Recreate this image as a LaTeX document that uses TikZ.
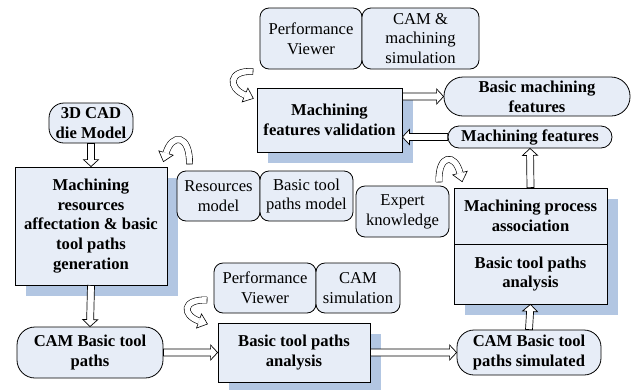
\documentclass[tikz,border=0pt]{standalone}
\usepackage{fontspec}
\setmainfont{Liberation Serif}
\usetikzlibrary{calc,shadows,backgrounds}
\definecolor{boxfill}{RGB}{231,237,247}
\definecolor{shadowc}{RGB}{178,198,226}
\tikzset{
  base/.style={draw=black, line width=0.8pt, fill=boxfill, align=center, inner sep=0pt},
  shadowed/.style={drop shadow={shadow xshift=11pt, shadow yshift=-11pt, fill=shadowc, opacity=1}},
  mainbox/.style={base, shadowed, font=\bfseries},
  toolbox/.style={base, rounded corners=9pt},
  pillbox/.style={base, rounded corners=16pt, font=\bfseries},
  harrowsty/.style={draw=black, line width=0.7pt, fill=white, line join=miter},
  bandsty/.style={draw=black, line width=0.6pt, double=white, double distance=5.6pt},
}
\newcommand\harrow[2]{%
  \path (#1) coordinate (hA) (#2) coordinate (hB);
  \path ($(hB)!7pt!(hA)$) coordinate (hH);
  \filldraw[harrowsty] ($(hA)!3.5pt!90:(hB)$) -- ($(hH)!3.5pt!90:(hB)$) -- ($(hH)!7.5pt!90:(hB)$) -- (hB)
    -- ($(hH)!7.5pt!-90:(hB)$) -- ($(hH)!3.5pt!-90:(hB)$) -- ($(hA)!3.5pt!-90:(hB)$) -- cycle;
}
\newcommand\curvarrow[4]{%
  \path (#1) coordinate (cS) (#2) coordinate (cA) (#3) coordinate (cB) (#4) coordinate (cE);
  \draw[bandsty] (cS) .. controls (cA) and (cB) .. (cE);
  \draw[line width=0.6pt] ($(cS)!3.1pt!90:(cA)$) -- ($(cS)!3.1pt!-90:(cA)$);
  \fill[white] ($(cE)!7.5pt!90:(cB)$) -- ($(cE)!-9pt!(cB)$) -- ($(cE)!7.5pt!-90:(cB)$) -- cycle;
  \draw[line width=0.6pt, line join=miter] ($(cE)!3.1pt!90:(cB)$) -- ($(cE)!7.5pt!90:(cB)$) -- ($(cE)!-9pt!(cB)$)
    -- ($(cE)!7.5pt!-90:(cB)$) -- ($(cE)!3.1pt!-90:(cB)$);
}
\begin{document}
\fontsize{16.6}{19.8}\selectfont
\begin{tikzpicture}[x=1pt, y=-1pt]
\useasboundingbox (0,0) rectangle (634,389);

% top tools
\node[toolbox, minimum width=102pt, minimum height=61pt] (pv1) at (311,38.5) {Performance\\Viewer};
\node[toolbox, minimum width=117pt, minimum height=61pt] (cam1) at (420.5,38.5) {CAM \&\\machining\\simulation};

% validation
\node[mainbox, minimum width=145pt, minimum height=64pt] (mfv) at (329.5,120) {Machining\\features validation};
\node[pillbox, rounded corners=19pt, minimum width=186pt, minimum height=39pt] (bmf) at (537,96.5) {Basic machining\\features};
\node[pillbox, rounded corners=11pt, minimum width=164pt, minimum height=22pt] (mf) at (530,137) {Machining features};

% left column
\node[pillbox, rounded corners=15pt, minimum width=84pt, minimum height=40pt] (cad) at (91,123) {3D CAD\\die Model};
\node[mainbox, minimum width=152pt, minimum height=118pt] (mr) at (91,226) {Machining\\resources\\affectation \& basic\\tool paths\\generation};
\node[pillbox, rounded corners=18pt, minimum width=146pt, minimum height=51pt] (cbtp) at (90,352.5) {CAM Basic tool\\paths};

% middle tools
\node[toolbox, minimum width=83pt, minimum height=50pt] (rm) at (218.5,196) {Resources\\model};
\node[toolbox, minimum width=93pt, minimum height=50pt] (btpm) at (306.5,196) {Basic tool\\paths model};
\node[toolbox, minimum width=93pt, minimum height=51pt] (ek) at (402.5,211.5) {Expert\\knowledge};

% process association (split box)
\node[base, font=\bfseries, minimum width=153pt, minimum height=56pt] (mpa1) at (530.5,216) {Machining process\\association};
\node[base, font=\bfseries, minimum width=153pt, minimum height=60pt] (mpa2) at (530.5,274) {Basic tool paths\\analysis};
\begin{scope}[on background layer]
  \fill[shadowc] ([shift={(11pt,-11pt)}]mpa1.north west) rectangle ([shift={(11pt,-11pt)}]mpa2.south east);
\end{scope}

% bottom row
\node[toolbox, minimum width=102pt, minimum height=50pt] (pv2) at (265,288) {Performance\\Viewer};
\node[toolbox, minimum width=84pt, minimum height=50pt] (cams) at (358,288) {CAM\\simulation};
\node[mainbox, minimum width=152pt, minimum height=59pt] (btpa) at (294,352.5) {Basic tool paths\\analysis};
\node[pillbox, rounded corners=17pt, minimum width=144pt, minimum height=45pt] (cbtps) at (529,352.5) {CAM Basic tool\\paths simulated};

% hollow arrows
\harrow{cad.south}{mr.north}
\harrow{mr.south}{cbtp.north}
\harrow{cbtp.east}{btpa.west}
\harrow{btpa.east}{cbtps.west}
\harrow{cbtps.north}{mpa2.south}
\harrow{mpa1.north}{mf.south}
\harrow{mf.west}{mfv.east |- mf.west}
\harrow{mfv.east |- bmf.west}{bmf.west}

% curved arrows
\curvarrow{253,71.5}{228,70}{228,88}{245,95}
\curvarrow{189.5,164}{190,134}{172,133}{166,153}
\curvarrow{439,182}{438,154}{455,153}{460,173}
\curvarrow{207,300}{182,299}{182,315}{199,321}
\end{tikzpicture}
\end{document}
